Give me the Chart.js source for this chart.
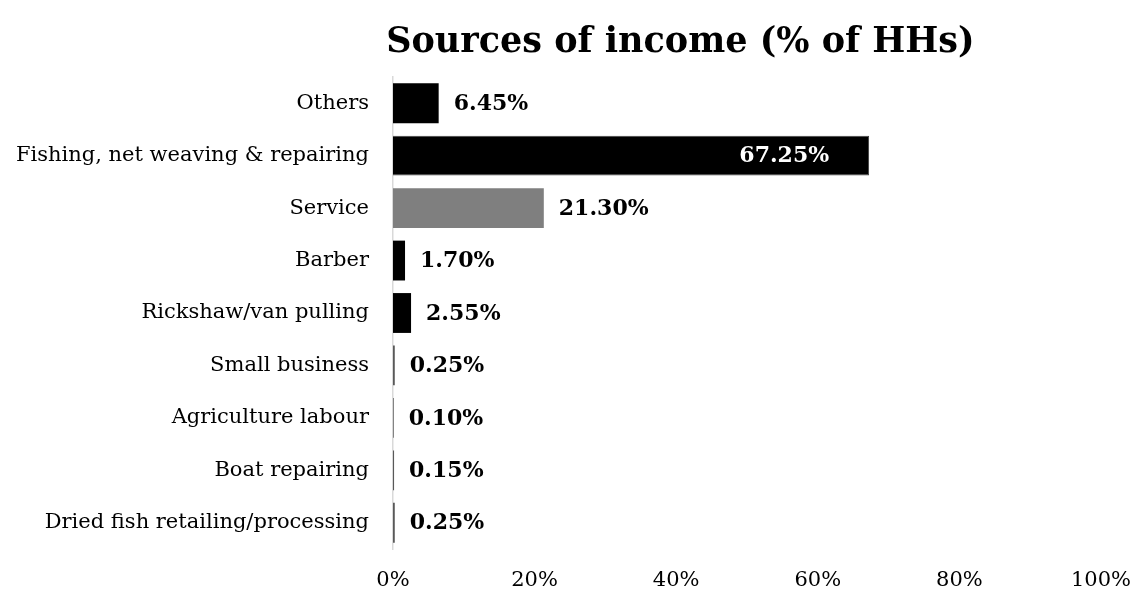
<!DOCTYPE html>
<html>
<head>
<meta charset="utf-8">
<title>Sources of income</title>
<script src="https://cdn.jsdelivr.net/npm/chart.js"></script>
<style>
  body { margin: 0; background: #fff; }
</style>
</head>
<body>
<canvas id="canvas" width="1134" height="590"></canvas>
<script>
  var labs = ["Others", "Fishing, net weaving & repairing", "Service", "Barber", "Rickshaw/van pulling",
              "Small business", "Agriculture labour", "Boat repairing", "Dried fish retailing/processing"];
  var data = [6.45, 67.25, 21.30, 1.70, 2.55, 0.25, 0.10, 0.15, 0.25];
  var fills = ["#000000", "#000000", "#7f7f7f", "#000000", "#000000", "#595959", "#595959", "#595959", "#595959"];
  var ticks = [0, 20, 40, 60, 80, 100];

  var serif = '"DejaVu Serif", serif';

  // title drawn a bit right of centre, over the bars
  var titlePlugin = {
    id: 'titlePlugin',
    afterDraw: function (chart) {
      var ctx = chart.ctx;
      ctx.save();
      ctx.font = 'bold 35px ' + serif;
      ctx.fillStyle = '#000';
      ctx.textAlign = 'center';
      ctx.textBaseline = 'middle';
      ctx.fillText('Sources of income (% of HHs)', chart.width * 0.6, 43);
      ctx.restore();
    }
  };

  // percentage next to each bar, inside the end for the big one
  var valueLabels = {
    id: 'valueLabels',
    afterDatasetsDraw: function (chart) {
      var ctx = chart.ctx;
      var meta = chart.getDatasetMeta(0);
      ctx.save();
      ctx.font = 'bold 22px ' + serif;
      ctx.textBaseline = 'middle';
      meta.data.forEach(function (bar, i) {
        var txt = data[i].toFixed(2) + '%';
        if (data[i] > 50) {
          ctx.fillStyle = '#fff';
          ctx.textAlign = 'right';
          ctx.fillText(txt, bar.x - 40, bar.y + 1);
        } else {
          ctx.fillStyle = '#000';
          ctx.textAlign = 'left';
          ctx.fillText(txt, bar.x + 15, bar.y + 1);
        }
      });
      ctx.restore();
    }
  };

  var ctx = document.getElementById('canvas').getContext('2d');
  var chart = new Chart(ctx, {
    type: 'bar',
    data: {
      labels: labs,
      datasets: [{
        data: data,
        backgroundColor: fills,
        borderColor: fills.map(function (c, i) { return i === 1 ? '#404040' : c; }),
        borderWidth: fills.map(function (c, i) { return i === 1 ? 1 : 0; }),
        categoryPercentage: 1,
        barPercentage: 0.76
      }]
    },
    options: {
      indexAxis: 'y',
      responsive: false,
      animation: false,
      layout: { padding: { top: 77, right: 33, left: 0, bottom: 0 } },
      plugins: { legend: { display: false }, tooltip: { enabled: false } },
      scales: {
        x: {
          min: ticks[0],
          max: ticks[ticks.length - 1],
          afterBuildTicks: function (scale) {
            scale.ticks = ticks.map(function (v) { return { value: v }; });
          },
          afterFit: function (scale) {
            scale.height = 41;
            scale.paddingLeft = 0;
            scale.paddingRight = 0;
          },
          grid: { display: false, drawTicks: false },
          border: { display: false },
          ticks: {
            padding: 19,
            color: '#000',
            font: { family: serif, size: 21 },
            callback: function (v) { return v + '%'; }
          }
        },
        y: {
          afterFit: function (scale) { scale.width = 393; },
          grid: { display: false, drawTicks: false },
          border: { display: true, color: '#d9d9d9', width: 1.5 },
          ticks: {
            padding: 24,
            color: '#000',
            font: { family: serif, size: 21 }
          }
        }
      }
    },
    plugins: [titlePlugin, valueLabels]
  });
</script>
</body>
</html>
